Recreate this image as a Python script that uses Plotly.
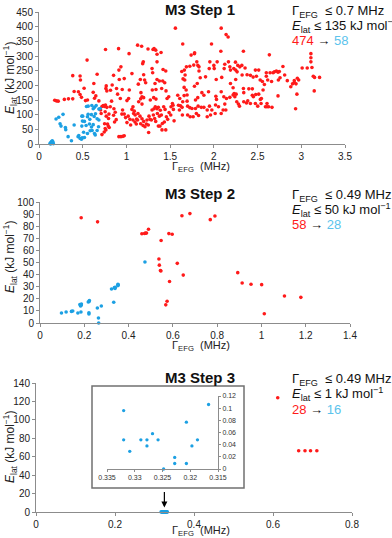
import plotly.graph_objects as go

# ---- data ----
step1_red = [
    (0.18, 149), (0.2, 147), (0.22, 146), (0.29, 152), (0.337, 154), (0.386, 233), (0.402, 179), (0.386, 154), (0.47, 232), (0.474, 218),
    (0.451, 178), (0.47, 169), (0.486, 159), (0.516, 190), (0.532, 148), (0.555, 150), (0.55, 286), (0.627, 206), (0.635, 156), (0.665, 238),
    (0.62, 176), (0.65, 164), (0.685, 147), (0.72, 128), (0.735, 131), (0.75, 128), (0.76, 133), (0.704, 116), (0.711, 104), (0.757, 110),
    (0.765, 189), (0.769, 198), (0.776, 181), (0.769, 95), (0.795, 87), (0.8, 102), (0.776, 125), (0.761, 322), (0.784, 68), (0.792, 61),
    (0.803, 56), (0.75, 69), (0.757, 53), (0.72, 32), (0.746, 41), (0.765, 48), (0.815, 127), (0.83, 146), (0.818, 183), (0.837, 201),
    (0.853, 234), (0.857, 120), (0.872, 108), (0.853, 98), (0.864, 75), (0.883, 83), (0.887, 189), (0.899, 170), (0.91, 325), (0.918, 220),
    (0.914, 252), (0.937, 263), (0.914, 25), (0.937, 25), (0.96, 26), (0.975, 28), (0.93, 155), (0.952, 186), (0.948, 102), (0.956, 116),
    (0.975, 102), (0.99, 90), (0.975, 223), (1.03, 308), (1.006, 148), (1.025, 155), (1.033, 184), (1.006, 73), (1.02, 95), (1.04, 84),
    (1.048, 65), (1.063, 240), (1.075, 127), (1.063, 118), (1.09, 112), (1.082, 104), (1.1, 99), (1.117, 85), (1.075, 82), (1.098, 75),
    (1.113, 68), (1.128, 337), (1.136, 204), (1.159, 220), (1.174, 333), (1.186, 274), (1.193, 280), (1.197, 236), (1.208, 218), (1.22, 209),
    (1.166, 175), (1.178, 161), (1.197, 158), (1.14, 144), (1.163, 154), (1.178, 136), (1.132, 104), (1.155, 95), (1.178, 86), (1.197, 77),
    (1.128, 82), (1.163, 69), (1.19, 63), (1.212, 59), (1.235, 82), (1.258, 95), (1.27, 84), (1.228, 68), (1.25, 65), (1.254, 39),
    (1.247, 324), (1.304, 322), (1.316, 325), (1.335, 320), (1.35, 280), (1.35, 306), (1.396, 312), (1.293, 257), (1.3, 243), (1.327, 206),
    (1.35, 220), (1.377, 215), (1.296, 184), (1.338, 186), (1.273, 150), (1.312, 158), (1.338, 153), (1.293, 116), (1.316, 120), (1.33, 127),
    (1.35, 120), (1.365, 125), (1.388, 115), (1.354, 104), (1.377, 95), (1.4, 99), (1.308, 99), (1.323, 87), (1.285, 82), (1.335, 77),
    (1.365, 61), (1.384, 61), (1.411, 70), (1.434, 75), (1.407, 48), (1.45, 48), (1.419, 254), (1.45, 249), (1.415, 215), (1.438, 209),
    (1.403, 189), (1.453, 181), (1.465, 155), (1.484, 161), (1.426, 127), (1.442, 118), (1.457, 93), (1.472, 84), (1.488, 107), (1.507, 99),
    (1.51, 127), (1.533, 132), (1.537, 118), (1.526, 138), (1.545, 79), (1.56, 395), (1.595, 132), (1.606, 116), (1.618, 130), (1.587, 166),
    (1.61, 155), (1.637, 125), (1.64, 99), (1.644, 144), (1.648, 222), (1.667, 218), (1.671, 235), (1.66, 165), (1.694, 146), (1.694, 167),
    (1.644, 341), (1.66, 193), (1.683, 184), (1.70, 129), (1.725, 124), (1.75, 121), (1.70, 99), (1.729, 93), (1.763, 93), (1.633, 247),
    (1.663, 252), (1.686, 263), (1.725, 265), (1.77, 269), (1.805, 280), (1.778, 197), (1.81, 206), (1.79, 150), (1.816, 158), (1.79, 121),
    (1.82, 129), (1.778, 308), (1.74, 303), (1.83, 263), (1.83, 249), (1.80, 104), (1.825, 97),
    (1.78, 311), (2.084, 395), (2.14, 373), (2.163, 365), (1.973, 341), (2.338, 316), (2.08, 316), (2.635, 304),
    (1.954, 280), (2.038, 280), (2.004, 257), (2.0, 268), (1.947, 257), (1.817, 268), (2.167, 280), (2.183, 263), (2.19, 252),
    (2.247, 279), (2.274, 268), (2.297, 263), (2.32, 268), (2.228, 257), (2.25, 252), (2.266, 246), (2.125, 272), (2.118, 257),
    (2.09, 227), (2.027, 220), (1.905, 229), (1.844, 226), (2.38, 236), (2.418, 234), (2.449, 228), (2.487, 231), (2.513, 252), (2.475, 252),
    (2.6, 243), (2.6, 231), (2.616, 218), (2.643, 243), (2.677, 243), (2.692, 246), (2.715, 249), (2.734, 245), (2.749, 247), (2.66, 213),
    (2.4, 188), (2.44, 188), (2.53, 218), (2.555, 213), (2.578, 203), (2.563, 184), (2.357, 259), (2.323, 235), (2.25, 220), (2.19, 206),
    (2.22, 192), (2.232, 172), (2.22, 167), (2.255, 170), (2.24, 161), (2.338, 189), (2.342, 175), (2.44, 166), (2.452, 161), (2.479, 169),
    (2.513, 170), (2.532, 152), (2.544, 155), (2.475, 138), (2.502, 129), (2.54, 138), (2.608, 127), (2.627, 127), (2.665, 125), (2.418, 138),
    (2.388, 147), (2.342, 144), (2.373, 140), (2.293, 129), (2.262, 144), (2.281, 136), (2.183, 159), (2.144, 155), (2.114, 161), (2.125, 136),
    (2.084, 178), (2.023, 163), (1.939, 178), (1.886, 166), (1.863, 175), (2.03, 152), (2.019, 133), (1.95, 129), (1.977, 116), (1.924, 116),
    (1.856, 125), (1.886, 125), (2.053, 127), (2.106, 116), (2.137, 116), (2.084, 104), (2.015, 104), (1.962, 99), (1.924, 93), (2.734, 164),
    (2.79, 264), (2.81, 235), (2.84, 216), (2.88, 195), (2.90, 205), (2.92, 209), (2.92, 216), (2.94, 205), (2.955, 224), (2.97, 218),
    (3.01, 259), (3.068, 259), (3.11, 308), (3.11, 294), (3.11, 280), (3.137, 231), (3.152, 227), (3.209, 227), (3.122, 261), (3.148, 181),
    (2.95, 170), (2.935, 120), (2.757, 226), (2.738, 218), (2.59, 127), (2.608, 138),
]
step1_blue = [
    (0.126, 2), (0.137, 6), (0.145, 8), (0.152, 11), (0.156, 4), (0.133, 0), (0.164, 1), (0.148, 3), (0.16, 7),
    (0.195, 85), (0.226, 91), (0.241, 69), (0.252, 61), (0.275, 101), (0.302, 56), (0.306, 49), (0.333, 25), (0.371, 11), (0.402, 65),
    (0.447, 25), (0.455, 29), (0.47, 19), (0.486, 16), (0.493, 21), (0.49, 61), (0.497, 78), (0.49, 95), (0.52, 77), (0.543, 128),
    (0.539, 63), (0.554, 93), (0.562, 101), (0.577, 68), (0.585, 45), (0.554, 36), (0.6, 58), (0.608, 46), (0.62, 66), (0.635, 36),
    (0.643, 31), (0.631, 94), (0.646, 103), (0.62, 120), (0.635, 125), (0.654, 131), (0.665, 46), (0.681, 59), (0.685, 119), (0.7, 121),
    (0.665, 86), (0.562, 129), (0.604, 131), (0.581, 84), (0.685, 82), (0.51, 40), (0.52, 22), (0.6, 100), (0.5, 95),
]

step2_red = [
    (0.186, 87), (0.26, 83.6), (0.46, 73.8), (0.476, 74.3), (0.481, 74.3), (0.49, 77.5), (0.537, 52.9), (0.539, 47.8), (0.544, 43.4), (0.546, 43),
    (0.547, 68.2), (0.582, 73.9), (0.597, 73.3), (0.585, 34.3), (0.568, 15), (0.574, 18), (0.62, 49.3), (0.647, 39.6), (0.641, 88.6), (0.677, 90.4),
    (0.769, 85.4), (0.79, 88.4), (0.893, 41.6), (0.913, 33.1), (0.953, 32), (1.001, 31.7), (1.104, 22.3), (1.178, 21.2), (1.013, 7.7), (0.472, 74),
]
step2_blue = [
    (0.097, 8.3), (0.118, 9.1), (0.142, 9.6), (0.148, 9.9), (0.171, 8.3), (0.18, 15.2), (0.186, 14.6), (0.183, 14), (0.185, 9.1), (0.218, 17.4),
    (0.223, 18.5), (0.221, 8.5), (0.221, 7.4), (0.259, 12.4), (0.264, 4.1), (0.265, 0), (0.277, 14), (0.323, 28.1), (0.336, 29.2), (0.339, 28.6),
    (0.352, 32), (0.352, 30.9), (0.333, 17.1), (0.474, 50.4), (0.222, 17.8), (0.34, 29.6), (0.187, 15.6), (0.353, 31.5),
]

step3_red = [(0.612, 124), (0.665, 66.5), (0.681, 66.5), (0.695, 66.5), (0.711, 66.5)]
step3_blue = [
    (0.3320, 0.096), (0.3320, 0.048), (0.3309, 0.029), (0.3289, 0.048), (0.3278, 0.048), (0.3278, 0.038), (0.3268, 0.058), (0.3258, 0.048),
    (0.3248, 0.0), (0.3228, 0.019), (0.3228, 0.009), (0.3207, 0.077), (0.3207, 0.009), (0.3197, 0.038), (0.3187, 0.048), (0.3167, 0.106),
]

filters = [
    ("0.7", "135", "474", "58"),
    ("0.49", "50", "58", "28"),
    ("0.49", "1", "28", "16"),
]

RED = "#FF1A1A"
BLUE = "#1CA0E3"
BLUE_TXT = "#5BC3EC"
AX = "#8C8C8C"
FONT = "Liberation Sans, Arial, sans-serif"

W, H = 392, 538


def px(x):
    return x / W


def py(y):
    return 1 - y / H


def pts(data, xa, ya, color, size=3.6):
    return go.Scatter(x=[p[0] for p in data], y=[p[1] for p in data], mode="markers",
                      marker=dict(color=color, size=size, line=dict(width=0)),
                      xaxis=xa, yaxis=ya, cliponaxis=False, showlegend=False)


fig = go.Figure()
fig.add_trace(pts(step1_red, "x", "y", RED))
fig.add_trace(pts(step1_blue, "x", "y", BLUE))
fig.add_trace(pts(step2_red, "x2", "y2", RED))
fig.add_trace(pts(step2_blue, "x2", "y2", BLUE))
fig.add_trace(pts(step3_red, "x3", "y3", RED))
fig.add_trace(pts(step3_blue, "x3", "y3", BLUE))
fig.add_trace(pts(step3_blue, "x4", "y4", BLUE, size=3.3))

axis_common = dict(showgrid=False, zeroline=False, showline=True, linecolor=AX, linewidth=1, automargin=False,
                   ticks="outside", ticklen=3, tickcolor=AX, tickfont=dict(size=10, color="#222"))
inset_common = dict(showgrid=False, zeroline=False, showline=True, linecolor=AX, automargin=False,
                    ticks="outside", ticklen=2, tickcolor=AX, tickfont=dict(size=7, color="#333"))

fig.update_layout(
    width=W, height=H, margin=dict(l=0, r=0, t=0, b=0, autoexpand=False),
    paper_bgcolor="white", plot_bgcolor="white", font=dict(family=FONT, color="#222"),
    xaxis=dict(domain=[px(39), px(345)], range=[0, 3.5], dtick=0.5, anchor="y", **axis_common),
    yaxis=dict(domain=[py(144), py(12)], range=[0, 450], dtick=50, anchor="x", **axis_common),
    xaxis2=dict(domain=[px(40), px(350)], range=[0, 1.4], dtick=0.2, anchor="y2", **axis_common),
    yaxis2=dict(domain=[py(323), py(202)], range=[0, 100], dtick=10, anchor="x2", **axis_common),
    xaxis3=dict(domain=[px(36), px(352)], range=[0, 0.8], dtick=0.2, anchor="y3", **axis_common),
    yaxis3=dict(domain=[py(512), py(383)], range=[0, 140], dtick=20, anchor="x3", **axis_common),
    xaxis4=dict(domain=[px(107), px(218)], range=[0.335, 0.315], dtick=0.005, anchor="y4", **inset_common),
    yaxis4=dict(domain=[py(469), py(396)], range=[0, 0.12], dtick=0.02, anchor="x4", side="right", **inset_common),
)

# inset frame
fig.add_shape(type="rect", xref="paper", yref="paper", x0=px(92), x1=px(244), y0=py(488), y1=py(386),
              line=dict(color="#707070", width=1.5), fillcolor="white", layer="below")

# arrow from inset to cluster
fig.add_annotation(x=0.325, y=5, xref="x3", yref="y3", ax=0, ay=-17, showarrow=True,
                   arrowhead=2, arrowsize=1, arrowwidth=1.2, arrowcolor="black", text="")

titles_y = [9, 193, 377]
xtitle_y = [167, 346, 531]
ytitle_y = [78, 257, 447]
for i, (ty, (g, e, n0, n1)) in enumerate(zip(titles_y, filters)):
    fig.add_annotation(text=f"<b>M3 Step {i + 1}</b>", x=px(200), y=py(ty), xref="paper", yref="paper",
                       showarrow=False, font=dict(size=15, color="#111"), xanchor="center", yanchor="middle")
    lines = [
        f"Γ<sub>EFG</sub>  ≤ {g} MHz",
        f"<i>E</i><sub>lat</sub> ≤ {e} kJ mol<sup>−1</sup>",
        f"<span style='color:{RED}'>{n0}</span> → <span style='color:{BLUE_TXT}'>{n1}</span>",
    ]
    for j, t in enumerate(lines):
        fig.add_annotation(text=t, x=px(290), y=py(ty + 2 + 15 * j), xref="paper", yref="paper",
                           showarrow=False, font=dict(size=13, color="#111"), xanchor="left", yanchor="middle")
    # axis titles
    fig.add_annotation(text="Γ<sub>EFG</sub>  (MHz)", x=px(201), y=py(xtitle_y[i]), xref="paper", yref="paper",
                       showarrow=False, font=dict(size=11, color="#222"), xanchor="center", yanchor="middle")
    fig.add_annotation(text="<i>E</i><sub>lat</sub> (kJ mol<sup>−1</sup>)", x=px(10), y=py(ytitle_y[i]),
                       xref="paper", yref="paper", textangle=-90, showarrow=False,
                       font=dict(size=12, color="#222"), xanchor="center", yanchor="middle")

# drop the default 8px page margin so the figure sits flush in the window; no modebar
fig.write_html("out.html", config={"displayModeBar": False},
               post_script="document.body.style.margin = '0';")
